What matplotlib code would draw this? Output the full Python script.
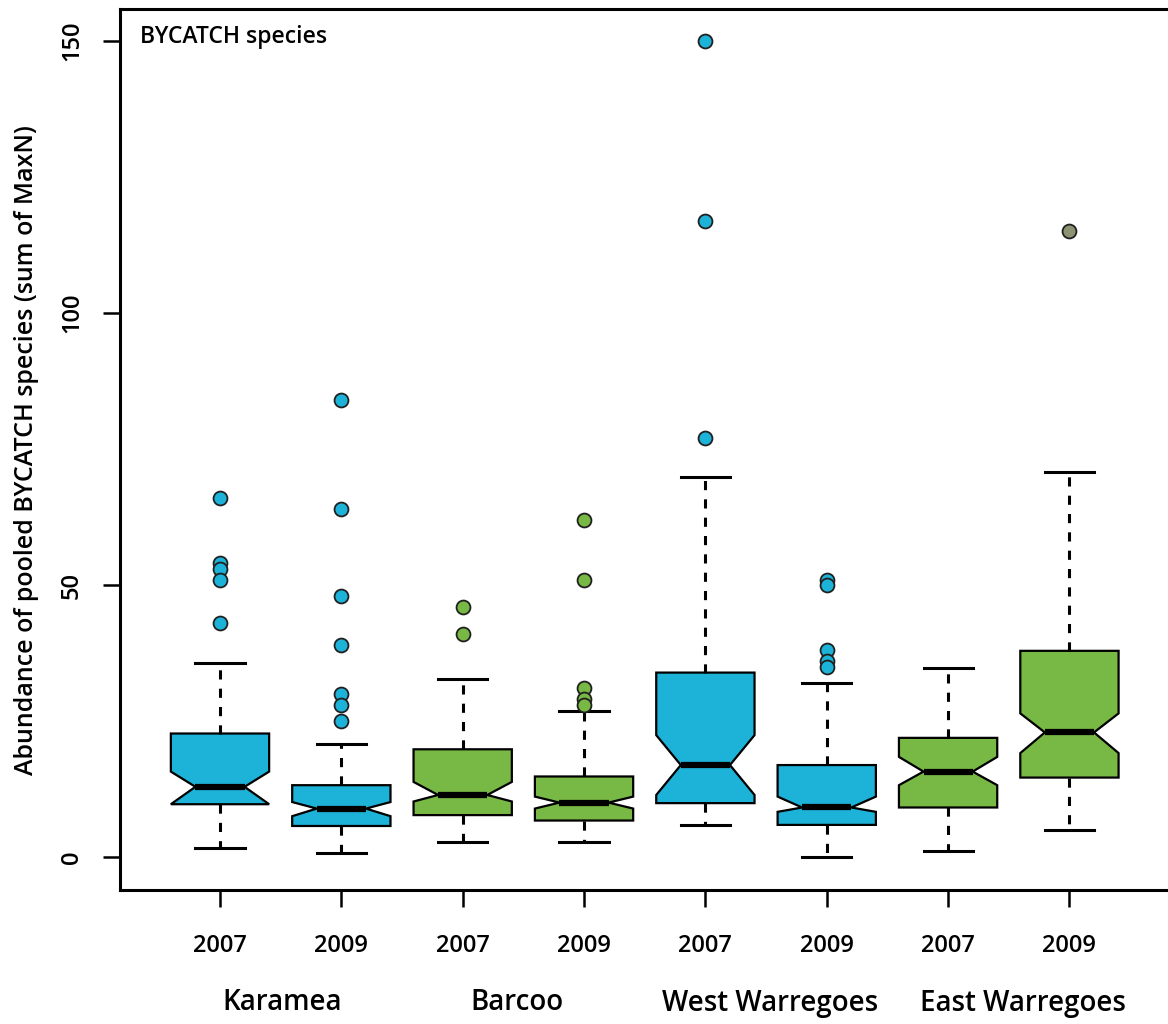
import matplotlib
matplotlib.use("Agg")
import matplotlib.pyplot as plt
from matplotlib.transforms import blended_transform_factory

## Values (abundance, sum of MaxN)
years = ['2007', '2009', '2007', '2009', '2007', '2009', '2007', '2009']
sites = ['Karamea', 'Barcoo', 'West Warregoes', 'East Warregoes']
med = [12.9, 8.9, 11.4, 10.0, 16.9, 9.1, 15.7, 22.9]
q1 = [9.7, 5.7, 7.7, 6.7, 9.9, 5.9, 9.1, 14.6]
q3 = [22.7, 13.2, 19.8, 14.8, 33.9, 16.9, 21.9, 37.9]
whislo = [1.6, 0.7, 2.7, 2.7, 5.9, 0.0, 1.1, 5.0]
whishi = [35.7, 20.8, 32.7, 26.8, 69.8, 31.9, 34.7, 70.7]
cilo = [9.7, 7.5, 10.2, 8.9, 11.4, 8.3, 13.2, 19.1]
cihi = [15.7, 10.1, 13.8, 11.1, 22.4, 11.1, 18.4, 26.4]
fliers = [
    [66, 54, 53, 51, 43],
    [84, 64, 48, 39, 30, 28, 25],
    [46, 41],
    [62, 51, 31, 29, 28],
    [150, 117, 77],
    [51, 50, 38, 36, 35],
    [],
    [115],
]

## Colours
cyan = '#1db3d9'
green = '#78b844'
box_colours = [cyan, cyan, green, green, cyan, cyan, green, green]
flier_colours = [cyan, cyan, green, green, cyan, cyan, green, '#8b9372']

plt.rcParams['font.family'] = ['Open Sans', 'DejaVu Sans']

fig = plt.figure(figsize=(11.68, 10.24), dpi=100)
## axes runs past the right edge so only left, top and bottom lines show
ax = fig.add_axes([120 / 1168, 1 - 890 / 1024, 1180 / 1168, (890 - 9) / 1024])

positions = list(range(1, len(med) + 1))
stats = []
for i in range(len(med)):
    stats.append(dict(med=med[i], q1=q1[i], q3=q3[i], whislo=whislo[i],
                      whishi=whishi[i], cilo=cilo[i], cihi=cihi[i],
                      fliers=fliers[i]))

bp = ax.bxp(stats, positions=positions, widths=0.81, shownotches=True,
            patch_artist=True, manage_ticks=False,
            boxprops=dict(edgecolor='black', linewidth=1.6),
            medianprops=dict(color='black', linewidth=4.5, solid_capstyle='butt'),
            whiskerprops=dict(color='black', linewidth=2.2, linestyle=(0, (3, 3))),
            capprops=dict(color='black', linewidth=2.2),
            flierprops=dict(marker='o', markersize=10, markeredgecolor='#202020',
                            markeredgewidth=1.3))

for patch, c in zip(bp['boxes'], box_colours):
    patch.set_facecolor(c)
for fl, c in zip(bp['fliers'], flier_colours):
    fl.set_markerfacecolor(c)

## Axis limits and ticks
ax.set_ylim(-6.07, 155.9)
ax.set_xlim(0.176, 9.9)
ax.set_yticks([0, 50, 100, 150])
ax.set_yticklabels(['0', '50', '100', '150'], rotation=90, va='center',
                   fontsize=17, fontweight='semibold')
ax.set_xticks(positions)
ax.set_xticklabels(years, fontsize=17, fontweight='semibold')
ax.tick_params(axis='both', length=12, width=1.8, direction='out')
ax.tick_params(axis='y', pad=14)
ax.tick_params(axis='x', pad=20)
for s in ax.spines.values():
    s.set_linewidth(2.2)

## Site names below the years
site_x = [1.51, 3.45, 5.53, 7.62]
trans = blended_transform_factory(ax.transData, fig.transFigure)
for x, name in zip(site_x, sites):
    ax.text(x, 1 - 1003 / 1024, name, transform=trans,
            ha='center', va='center', fontsize=20, fontweight='semibold')

## Panel label and y label
ax.text(140 / 1168, 1 - 37 / 1024, 'BYCATCH species', transform=fig.transFigure,
        ha='left', va='center', fontsize=16.5, fontweight='semibold')
fig.text(27 / 1168, 1 - 450 / 1024, 'Abundance of pooled BYCATCH species (sum of MaxN)',
         rotation=90, ha='center', va='center', fontsize=18, fontweight='semibold')

fig.savefig('out.png', dpi=100)
